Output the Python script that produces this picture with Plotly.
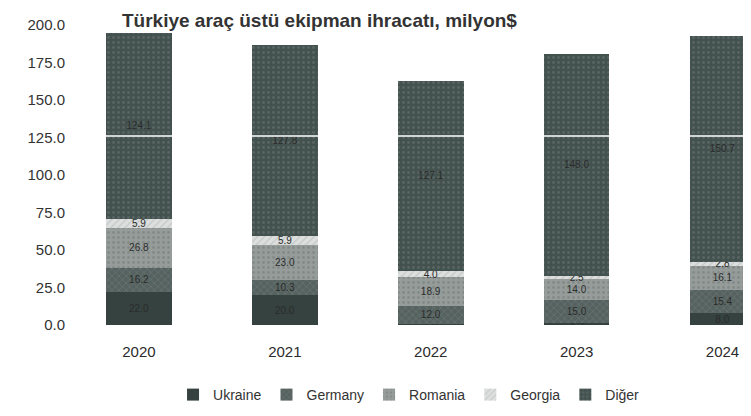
import plotly.graph_objects as go

years = ["2020", "2021", "2022", "2023", "2024"]

ukraine = [22.0, 20.0, 1.0, 1.5, 8.0]
germany = [16.2, 10.3, 12.0, 15.0, 15.4]
romania = [26.8, 23.0, 18.9, 14.0, 16.1]
georgia = [5.9, 5.9, 4.0, 2.5, 2.8]
diger = [124.1, 127.8, 127.1, 148.0, 150.7]

series = [
    ("Ukraine", ukraine, "#35423f", "", "#35423f", 10),
    ("Germany", germany, "#56625f", "x", "#7f8987", 12),
    ("Romania", romania, "#959c9a", ".", "#6f7876", 12),
    ("Georgia", georgia, "#dcdfde", "/", "#a9b0ae", 11),
    ("Diğer", diger, "#44524f", ".", "#6c7875", 12),
]

fig = go.Figure()

for name, vals, color, shape, fg, fsize in series:
    fig.add_trace(go.Bar(
        x=years,
        y=vals,
        name=name,
        marker=dict(
            color=color,
            line=dict(width=0),
            pattern=dict(shape=shape, fgcolor=fg, bgcolor=color, size=5, solidity=0.25),
        ),
        text=[f"{v:.1f}" for v in vals],
        textposition="inside",
        insidetextanchor="middle",
        textangle=0,
        textfont=dict(color="#2b2b2b", size=fsize, family="Liberation Sans"),
        hoverinfo="name+y",
    ))

fig.update_layout(
    barmode="stack",
    bargap=0.55,
    width=751,
    height=416,
    paper_bgcolor="white",
    plot_bgcolor="white",
    margin=dict(l=58, r=0, t=17, b=99, autoexpand=False),
    font=dict(family="Liberation Sans", color="#333333"),
    title=dict(
        text="<b>Türkiye araç üstü ekipman ihracatı, milyon$</b>",
        x=114 / 751, xanchor="left",
        y=1 - 12 / 416, yanchor="middle",
        font=dict(size=19, color="#333333"),
    ),
    uniformtext=dict(minsize=10, mode="show"),
    legend=dict(
        orientation="h",
        x=0.495, xanchor="center",
        y=-0.18, yanchor="top",
        font=dict(size=14, color="#333333"),
        traceorder="normal",
        itemwidth=30,
    ),
    showlegend=True,
)

fig.update_xaxes(
    range=[-0.50, 4.25],
    showgrid=False,
    showline=False,
    ticks="",
    ticklabelstandoff=16,
    tickfont=dict(size=15, color="#2b2b2b"),
)

fig.update_yaxes(
    range=[0, 200],
    dtick=25,
    tickformat=".1f",
    showgrid=False,
    zeroline=False,
    showline=False,
    ticks="",
    tickfont=dict(size=15, color="#333333"),
)

# faint white streak crossing the bars in the scan
streak_level = 126
fig.add_shape(type="line", xref="paper", yref="y", x0=0, x1=1,
              y0=streak_level, y1=streak_level,
              line=dict(color="white", width=1.5), layer="above")

fig.write_html("out.html")
